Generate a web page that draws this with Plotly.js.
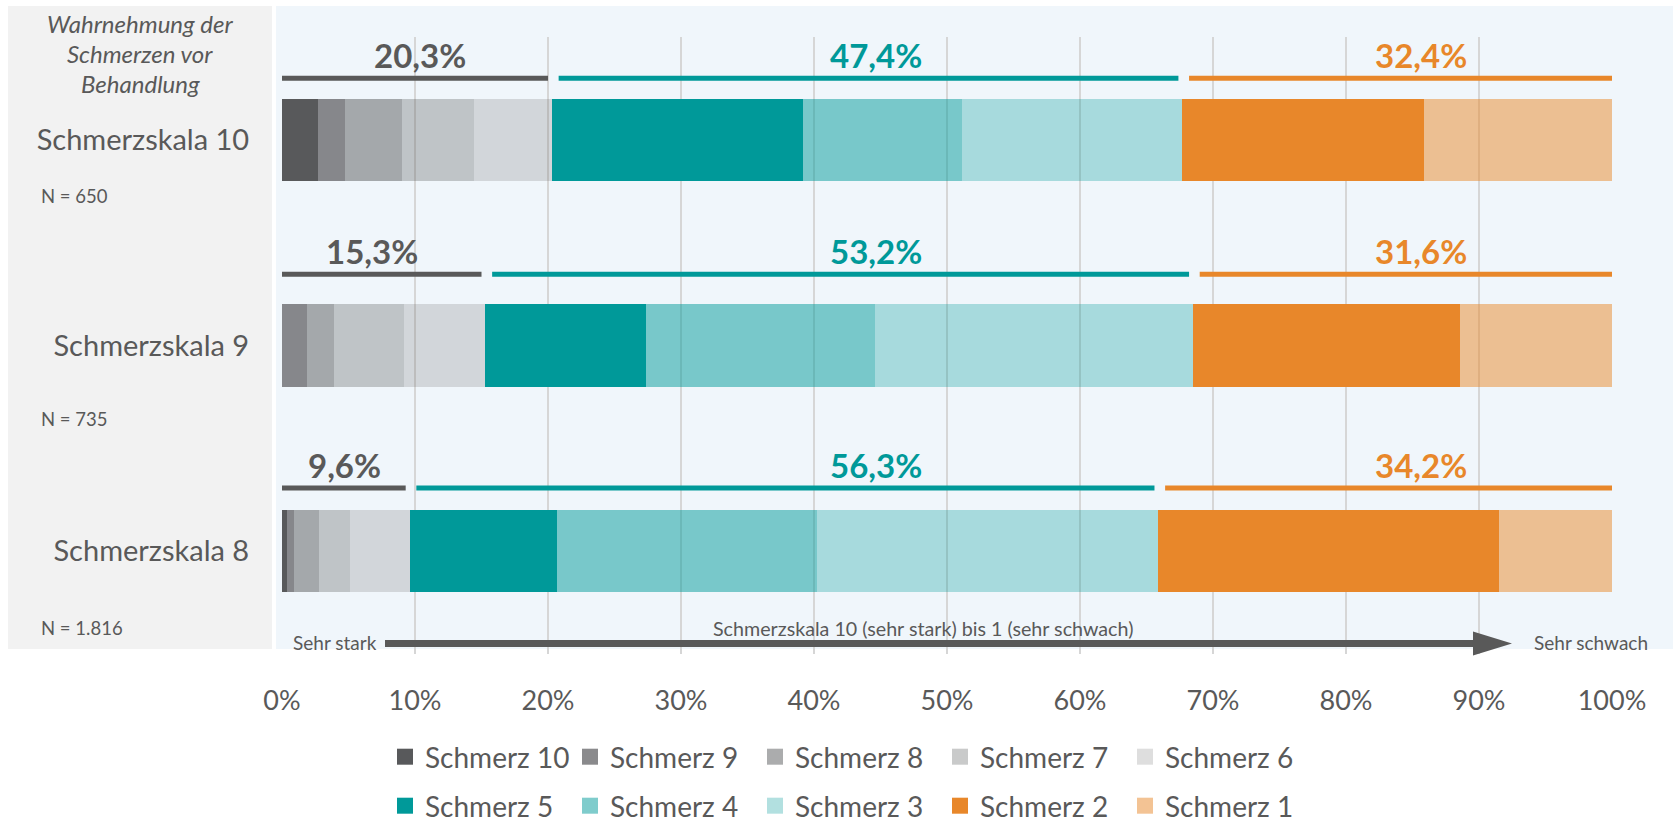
<!DOCTYPE html>
<html>
<head>
<meta charset="utf-8">
<script src="https://cdn.plot.ly/plotly-3.0.1.min.js"></script>
<style>
html,body{margin:0;padding:0;background:#ffffff;}
#chart{width:1673px;height:825px;}
</style>
</head>
<body>
<div id="chart"></div>
<script>
// ---------- data ----------
const categories = ['Schmerzskala 10', 'Schmerzskala 9', 'Schmerzskala 8'];
const sampleSizes = ['N = 650', 'N = 735', 'N = 1.816'];
const seriesNames = ['Schmerz 10', 'Schmerz 9', 'Schmerz 8', 'Schmerz 7', 'Schmerz 6',
                     'Schmerz 5', 'Schmerz 4', 'Schmerz 3', 'Schmerz 2', 'Schmerz 1'];
const schmerz10 = [2.7, 0.0, 0.4];
const schmerz9  = [2.0, 1.9, 0.5];
const schmerz8  = [4.3, 2.0, 1.9];
const schmerz7  = [5.4, 5.3, 2.3];
const schmerz6  = [5.9, 6.1, 4.5];
const schmerz5  = [18.9, 12.1, 11.1];
const schmerz4  = [11.9, 17.2, 19.5];
const schmerz3  = [16.6, 23.9, 25.7];
const schmerz2  = [18.2, 20.1, 25.6];
const schmerz1  = [14.2, 11.5, 8.6];
const tickValues = [0, 10, 20, 30, 40, 50, 60, 70, 80, 90, 100];
const tickLabels = ['0%', '10%', '20%', '30%', '40%', '50%', '60%', '70%', '80%', '90%', '100%'];
const titleLines = ['Wahrnehmung der', 'Schmerzen vor', 'Behandlung'];
const scaleText = 'Schmerzskala 10 (sehr stark) bis 1 (sehr schwach)';
const startText = 'Sehr stark';
const endText = 'Sehr schwach';

const series = [schmerz10, schmerz9, schmerz8, schmerz7, schmerz6,
                schmerz5, schmerz4, schmerz3, schmerz2, schmerz1];

// ---------- styles ----------
const GRAY = '88,89,91', TEAL = '0,153,153', ORANGE = '232,135,42';
const seriesColors = [
  `rgba(${GRAY},1)`, `rgba(${GRAY},0.7)`, `rgba(${GRAY},0.5)`, `rgba(${GRAY},0.32)`, `rgba(${GRAY},0.2)`,
  `rgba(${TEAL},1)`, `rgba(${TEAL},0.5)`, `rgba(${TEAL},0.3)`,
  `rgba(${ORANGE},1)`, `rgba(${ORANGE},0.5)`
];
const groupColors = ['#595959', '#009999', '#e8872a'];
const TXT = '#595959';
const FONT = 'Lato, "Open Sans", sans-serif';

// ---------- geometry (layout) ----------
const W = 1673, H = 825;
const M = {l: 282, r: 61, t: 37, b: 171};
const plotW = W - M.l - M.r, plotH = H - M.t - M.b;
const px2x = p => (p - M.l) / plotW;
const py2y = p => (H - M.b - p) / plotH;
const unitPx = plotH / 3;
const barWidth = 0.4;
const lineGapPx = [20.5, 30, 22];
const labelGapPx = 23;
const labelX = [[10.4, 44.66, 85.65], [6.8, 44.66, 85.65], [4.7, 44.66, 85.65]];
const legendColX = [385, 570, 755, 940, 1125];
const legendRowY = [757, 806];
const legendIds = ['legend', 'legend2', 'legend3', 'legend4', 'legend5',
                   'legend6', 'legend7', 'legend8', 'legend9', 'legend10'];

// ---------- traces ----------
const traces = series.map((vals, i) => ({
  type: 'bar',
  orientation: 'h',
  name: seriesNames[i],
  x: vals,
  y: categories,
  width: barWidth,
  marker: {color: seriesColors[i], line: {width: 0}},
  showlegend: false,
  hoverinfo: 'name+x'
}));
// legend keys (square swatches, same names and colours as the bars)
seriesNames.forEach((name, i) => {
  traces.push({
    type: 'scatter', mode: 'markers', name: name,
    x: [null], y: [null],
    marker: {symbol: 'square', size: 16, color: seriesColors[i], line: {width: 0}},
    legend: legendIds[i], showlegend: true, hoverinfo: 'skip'
  });
});

// ---------- group sums, lines and labels ----------
const shapes = [];
const annotations = [];

// backgrounds
shapes.push({type: 'rect', xref: 'paper', yref: 'paper', layer: 'below',
  x0: px2x(276), x1: px2x(W), y0: py2y(649), y1: py2y(6),
  fillcolor: '#f0f6fb', line: {width: 0}});
shapes.push({type: 'rect', xref: 'paper', yref: 'paper', layer: 'below',
  x0: px2x(8), x1: px2x(272), y0: py2y(649), y1: py2y(6),
  fillcolor: '#f2f2f2', line: {width: 0}});

categories.forEach((cat, r) => {
  const groups = [
    series.slice(0, 5).reduce((s, a) => s + a[r], 0),
    series.slice(5, 8).reduce((s, a) => s + a[r], 0),
    series.slice(8, 10).reduce((s, a) => s + a[r], 0)
  ];
  const lineY = r - barWidth / 2 - lineGapPx[r] / unitPx;
  const labY = lineY - labelGapPx / unitPx;
  let start = 0;
  groups.forEach((g, k) => {
    const end = start + g;
    const x0 = k === 0 ? 0 : start + 0.5;
    const x1 = k === 2 ? 100 : end - 0.3;
    shapes.push({type: 'line', xref: 'x', yref: 'y', x0: x0, x1: x1, y0: lineY, y1: lineY,
      line: {color: groupColors[k], width: 5}});
    annotations.push({xref: 'x', yref: 'y', x: labelX[r][k], y: labY,
      text: '<b>' + g.toFixed(1).replace('.', ',') + '%</b>', showarrow: false,
      xanchor: 'center', yanchor: 'middle',
      font: {family: FONT, size: 33, color: groupColors[k]}});
    start = end;
  });
});

// N labels
const nY = [196, 419, 628];
sampleSizes.forEach((t, r) => {
  annotations.push({xref: 'paper', yref: 'paper', x: px2x(39), y: py2y(nY[r]),
    text: t, showarrow: false, xanchor: 'left', yanchor: 'middle',
    font: {family: FONT, size: 18.5, color: TXT}});
});

// left title
const tY = [24, 54, 84];
titleLines.forEach((t, i) => {
  annotations.push({xref: 'paper', yref: 'paper', x: px2x(140), y: py2y(tY[i]),
    text: '<i>' + t + '</i>', showarrow: false, xanchor: 'center', yanchor: 'middle',
    font: {family: FONT, size: 24, color: TXT}});
});

// scale arrow
shapes.push({type: 'line', xref: 'paper', yref: 'paper',
  x0: px2x(385), x1: px2x(1476), y0: py2y(643.5), y1: py2y(643.5),
  line: {color: '#595959', width: 7}});
shapes.push({type: 'path', xref: 'paper', yref: 'paper',
  path: `M ${px2x(1473)} ${py2y(631.5)} L ${px2x(1512)} ${py2y(643.5)} L ${px2x(1473)} ${py2y(655.5)} Z`,
  fillcolor: '#595959', line: {width: 0}});
annotations.push({xref: 'paper', yref: 'paper', x: px2x(291), y: py2y(642),
  text: startText, showarrow: false, xanchor: 'left', yanchor: 'middle',
  font: {family: FONT, size: 19, color: TXT}});
annotations.push({xref: 'paper', yref: 'paper', x: px2x(1532), y: py2y(642),
  text: endText, showarrow: false, xanchor: 'left', yanchor: 'middle',
  font: {family: FONT, size: 19, color: TXT}});
annotations.push({xref: 'paper', yref: 'paper', x: px2x(922.6), y: py2y(628),
  text: scaleText, showarrow: false, xanchor: 'center', yanchor: 'middle',
  font: {family: FONT, size: 19.7, color: TXT}});

const layout = {
  width: W, height: H,
  margin: {l: M.l, r: M.r, t: M.t, b: M.b, autoexpand: false},
  paper_bgcolor: '#ffffff',
  plot_bgcolor: 'rgba(0,0,0,0)',
  barmode: 'stack',
  font: {family: FONT, color: TXT},
  xaxis: {
    range: [0, 100], tickvals: tickValues, ticktext: tickLabels,
    showgrid: true, gridcolor: '#d6d6d6', gridwidth: 1.5, zeroline: false,
    ticks: 'outside', ticklen: 23, tickcolor: 'rgba(0,0,0,0)',
    tickfont: {family: FONT, size: 27, color: TXT}, showline: false, fixedrange: true
  },
  yaxis: {
    type: 'category', range: [2.5, -0.5], showgrid: false, zeroline: false,
    ticks: 'outside', ticklen: 26, tickcolor: 'rgba(0,0,0,0)',
    tickfont: {family: FONT, size: 29, color: TXT}, showline: false, fixedrange: true
  },
  shapes: shapes,
  annotations: annotations,
  showlegend: true
};

legendIds.forEach((id, i) => {
  layout[id] = {
    orientation: 'h', xref: 'paper', yref: 'paper', xanchor: 'left', yanchor: 'middle',
    x: px2x(legendColX[i % 5]), y: py2y(legendRowY[Math.floor(i / 5)]),
    font: {family: FONT, size: 28, color: TXT}, itemwidth: 30,
    bgcolor: 'rgba(0,0,0,0)', borderwidth: 0
  };
});

Plotly.newPlot('chart', traces, layout, {displayModeBar: false, staticPlot: true});
</script>
</body>
</html>
